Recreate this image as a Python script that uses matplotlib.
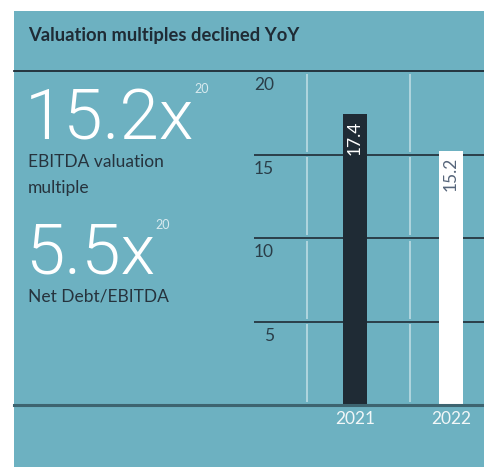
import matplotlib.pyplot as plt
from matplotlib.patches import Rectangle
from matplotlib.lines import Line2D

# data
years = ["2021", "2022"]
multiples = [17.4, 15.2]
yticks = [0, 5, 10, 15, 20]
headline_vals = ["15.2x", "5.5x"]
headline_labels = [["EBITDA valuation", "multiple"], ["Net Debt/EBITDA"]]
footnote = "20"
title = "Valuation multiples declined YoY"

TEAL = "#6db1c1"
DARK = "#1f2b35"
BASE = "#3d6470"
VGRID = "#c3dfe6"

W, H = 484, 467
fig = plt.figure(figsize=(W / 100, H / 100), dpi=100)
fig.patch.set_facecolor("white")


def fx(px):
    return px / W


def fy(py):
    return 1 - py / H


# teal panel, separator, baseline
fig.add_artist(Rectangle((fx(14), 0), 1 - fx(14), fy(11), transform=fig.transFigure,
                         facecolor=TEAL, edgecolor="none", zorder=0))
fig.add_artist(Line2D([fx(14), 1], [fy(71), fy(71)], color=DARK, lw=1.3, zorder=1))
fig.add_artist(Line2D([fx(14), 1], [fy(404.5), fy(404.5)], color=BASE, lw=2.2, zorder=5))

fig.text(fx(28), fy(36), title, fontsize=13.2, fontweight="bold", family="Lato",
         color=DARK, va="center")

# bar chart
ax = fig.add_axes([fx(254), fy(405), 1 - fx(254), fy(71) - fy(405)])
ax.set_facecolor("none")
ax.set_ylim(0, 20)
ax.set_xlim(-1.052, 1.344)
for s in ax.spines.values():
    s.set_visible(False)
ax.set_xticks([])
ax.set_yticks([])

for t in yticks[1:-1]:
    ax.axhline(t, color=DARK, lw=1.2, zorder=1)

pad = 0.15
for xv in [-0.5, 0.573]:
    for lo, hi in zip(yticks[:-1], yticks[1:]):
        ax.vlines(xv, lo + pad, hi - pad, color=VGRID, lw=1.1, zorder=1)

for t in yticks[1:]:
    ax.text(0.087, t - 0.85, str(t), transform=ax.get_yaxis_transform(),
            ha="right", va="center", fontsize=12.5, family="Lato",
            color="#2a3d48")

ax.bar(range(len(years)), multiples, width=0.25, color=[DARK, "white"], zorder=3)

label_colors = ["white", "#56657a"]
for i, (yr, v) in enumerate(zip(years, multiples)):
    ax.text(i, v - 0.35, f"{v}", rotation=90, ha="center", va="top",
            fontsize=12.5, family="Lato", color=label_colors[i], zorder=4)
    ax.text(i, -0.84, yr, ha="center", va="center", fontsize=12.5,
            family="Lato", color="#f2f7f8", clip_on=False)

# headline figures on the left
big_baselines = [140, 273]
sup_baselines = [93, 229]
label_tops = [162, 297]
fig.canvas.draw()
renderer = fig.canvas.get_renderer()
for k, val in enumerate(headline_vals):
    big = fig.text(fx(25), fy(big_baselines[k]), val, fontsize=51, family="Roboto",
                   fontweight=300, color="white", va="baseline")
    bb = big.get_window_extent(renderer)
    fig.text(bb.x1 / W, fy(sup_baselines[k]), footnote, fontsize=9,
             family="Lato", color="#d8eaef", va="baseline")
    for j, line in enumerate(headline_labels[k]):
        fig.text(fx(28), fy(label_tops[k] + 26 * j), line, fontsize=12.5,
                 family="Lato", color="#26333d", va="center")

fig.savefig("out.png", dpi=100)
